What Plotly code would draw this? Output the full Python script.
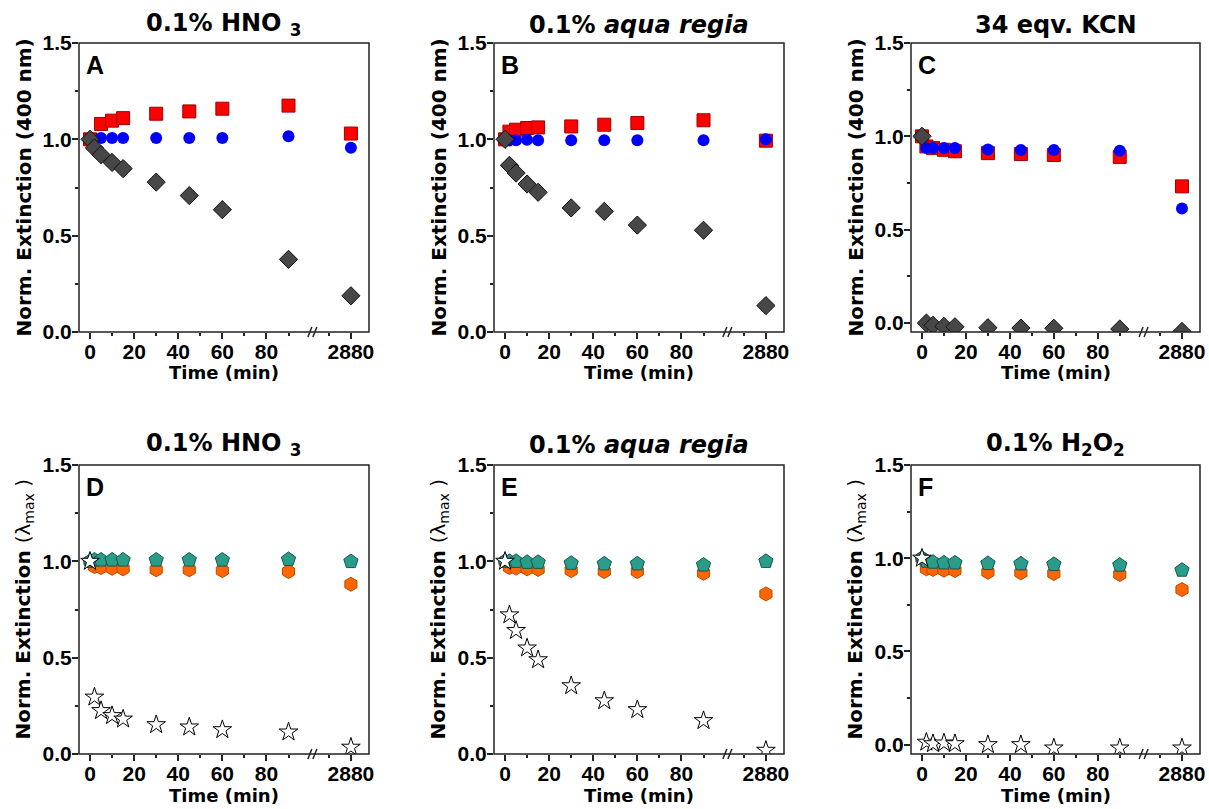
import plotly.graph_objects as go

W, H = 1209, 809

# sampling times (min); 2880 sits behind the axis break
time_min = [0, 2, 5, 10, 15, 30, 45, 60, 90, 2880]

# top row: normalised extinction at 400 nm
a_square = [1.0, None, 1.08, 1.097, 1.11, 1.133, 1.145, 1.159, 1.175, 1.03]
a_circle = [1.0, None, 1.007, 1.007, 1.007, 1.007, 1.007, 1.007, 1.016, 0.956]
a_diamond = [1.0, 0.955, 0.92, 0.88, 0.848, 0.778, 0.708, 0.635, 0.377, 0.188]

b_square = [1.0, 1.04, 1.05, 1.059, 1.062, 1.067, 1.076, 1.085, 1.099, 0.993]
b_circle = [1.0, 0.995, 0.995, 0.998, 0.995, 0.995, 0.995, 0.995, 0.995, 1.0]
b_diamond = [1.0, 0.865, 0.825, 0.768, 0.725, 0.644, 0.626, 0.555, 0.528, 0.137]

c_square = [1.0, 0.946, 0.937, 0.928, 0.92, 0.91, 0.905, 0.9, 0.89, 0.732]
c_circle = [1.0, 0.937, 0.937, 0.937, 0.937, 0.93, 0.927, 0.927, 0.923, 0.614]
c_diamond = [1.0, 0.0, -0.012, -0.018, -0.02, -0.025, -0.027, -0.028, -0.032, -0.045]

# bottom row: normalised extinction at lambda max
d_hexagon = [1.0, 0.973, 0.968, 0.964, 0.961, 0.956, 0.956, 0.952, 0.947, 0.881]
d_pentagon = [1.0, 1.007, 1.007, 1.007, 1.007, 1.007, 1.007, 1.007, 1.01, 0.999]
d_star = [1.0, 0.295, 0.225, 0.199, 0.181, 0.152, 0.14, 0.126, 0.114, 0.035]

e_hexagon = [1.0, 0.968, 0.965, 0.961, 0.958, 0.952, 0.947, 0.947, 0.938, 0.831]
e_pentagon = [1.0, 1.0, 1.0, 0.995, 0.995, 0.99, 0.987, 0.987, 0.981, 1.0]
e_star = [1.0, 0.722, 0.641, 0.55, 0.489, 0.354, 0.276, 0.23, 0.173, 0.019]

f_hexagon = [1.0, 0.943, 0.94, 0.936, 0.934, 0.925, 0.922, 0.918, 0.913, 0.832]
f_pentagon = [1.0, 0.984, 0.979, 0.975, 0.975, 0.972, 0.97, 0.967, 0.963, 0.936]
f_star = [1.0, 0.013, 0.005, 0.009, 0.005, 0.0, 0.0, -0.018, -0.018, -0.018]

x_ticks = [0, 20, 40, 60, 80]
x_minor = [10, 30, 50, 70, 90]
y_ticks = [0.0, 0.5, 1.0, 1.5]
y_minor = [0.25, 0.75, 1.25]

titles = ["0.1% HNO <sub>3</sub>", "0.1% <i>aqua regia</i>", "34 eqv. KCN",
          "0.1% HNO <sub>3</sub>", "0.1% <i>aqua regia</i>", "0.1% H<sub>2</sub>O<sub>2</sub>"]
letters = ["A", "B", "C", "D", "E", "F"]
ytitle_top = "Norm. Extinction (400 nm)"
ytitle_bottom = "Norm. Extinction <span style='font-weight:normal'>(λ<sub>max</sub> )</span>"

TOP_STYLE = [
    dict(symbol="square", size=13, color="#ff0000", line=dict(color="#a00000", width=1)),
    dict(symbol="circle", size=12, color="#0000ff", line=dict(color="#0000ff", width=0)),
    dict(symbol="diamond", size=14, color="#474747", line=dict(color="#111111", width=1)),
]
BOTTOM_STYLE = [
    dict(symbol="hexagon", size=14, color="#ff6600", line=dict(color="#b84a00", width=1)),
    dict(symbol="pentagon", size=15, color="#2a9d8a", line=dict(color="#17574c", width=1)),
    dict(symbol="star", size=14, color="white", line=dict(color="black", width=1)),
]

panels = [
    dict(series=[a_square, a_circle, a_diamond], yr=[0, 1.5]),
    dict(series=[b_square, b_circle, b_diamond], yr=[0, 1.5]),
    dict(series=[c_square, c_circle, c_diamond], yr=[-0.048, 1.5]),
    dict(series=[d_hexagon, d_pentagon, d_star], yr=[0, 1.5]),
    dict(series=[e_hexagon, e_pentagon, e_star], yr=[0, 1.5]),
    dict(series=[f_hexagon, f_pentagon, f_star], yr=[-0.05, 1.5]),
]

COLS_PX = [(79, 369), (494, 784), (911, 1200)]
ROWS_PX = [(43, 332), (465, 754)]

X0, BREAK, LONG_POS, X_END = -5, 101.5, 118.3, 126.5
LINE = "#222222"
TICKFONT = dict(family="Liberation Sans", size=21, color="black", weight="bold")
TITLEFONT = dict(family="DejaVu Sans", color="black", weight="bold")


def px_x(p):
    return p / W


def px_y(p):
    return 1 - p / H


fig = go.Figure()
layout = dict(width=W, height=H, margin=dict(l=0, r=0, t=0, b=0, autoexpand=False),
              plot_bgcolor="white", paper_bgcolor="white", showlegend=False,
              hovermode=False)
shapes, annotations = [], []

for k, panel in enumerate(panels):
    row, col = divmod(k, 3)
    left, right = COLS_PX[col]
    top, bottom = ROWS_PX[row]
    split = left + (right - left) * (BREAK - X0) / (X_END - X0)
    xa, xb, ya = 2 * k + 1, 2 * k + 2, k + 1
    styles = TOP_STYLE if row == 0 else BOTTOM_STYLE

    common_x = dict(anchor=f"y{ya}", showgrid=False, zeroline=False, showline=False,
                    automargin=False, ticks="outside", ticklen=6, tickwidth=1.5,
                    tickcolor=LINE, tickfont=TICKFONT, tickmode="array", ticklabelstandoff=-5)
    layout[f"xaxis{xa}"] = dict(common_x, domain=[px_x(left), px_x(split)], range=[X0, BREAK],
                                tickvals=x_ticks,
                                minor=dict(tickvals=x_minor, ticks="outside", ticklen=3,
                                           tickwidth=1.5, tickcolor=LINE, showgrid=False))
    layout[f"xaxis{xb}"] = dict(common_x, domain=[px_x(split), px_x(right)],
                                range=[2880 - (LONG_POS - BREAK), 2880 + (X_END - LONG_POS)],
                                tickvals=[2880],
                                minor=dict(tickvals=[2870], ticks="outside", ticklen=3,
                                           tickwidth=1.5, tickcolor=LINE, showgrid=False))
    layout[f"yaxis{ya}"] = dict(anchor=f"x{xa}", domain=[px_y(bottom), px_y(top)], range=panel["yr"],
                                showgrid=False, zeroline=False, showline=False, automargin=False,
                                tickmode="array", tickvals=y_ticks, tickformat=".1f",
                                ticks="outside", ticklen=6, tickwidth=1.5, tickcolor=LINE,
                                tickfont=TICKFONT, ticklabelstandoff=-4,
                                minor=dict(tickvals=y_minor, ticks="outside", ticklen=3,
                                           tickwidth=1.5, tickcolor=LINE, showgrid=False))

    for vals, st in zip(panel["series"], styles):
        near = [(t, v) for t, v in zip(time_min, vals) if v is not None and t <= BREAK]
        far = [(t, v) for t, v in zip(time_min, vals) if v is not None and t > BREAK]
        for pts, xid in ((near, xa), (far, xb)):
            fig.add_trace(go.Scatter(
                x=[p[0] for p in pts], y=[p[1] for p in pts], mode="markers",
                xaxis=f"x{xid}", yaxis=f"y{ya}",
                marker=dict(symbol=st["symbol"], size=st["size"], color=st["color"], line=st["line"])))

    # frame and axis break marks
    shapes.append(dict(type="rect", xref="paper", yref="paper", x0=px_x(left), x1=px_x(right),
                       y0=px_y(bottom), y1=px_y(top), line=dict(color=LINE, width=1.5)))
    for off in (-4, 1):
        shapes.append(dict(type="line", xref="paper", yref="paper",
                           x0=px_x(split + off - 2), y0=px_y(bottom + 5),
                           x1=px_x(split + off + 2), y1=px_y(bottom - 5),
                           line=dict(color=LINE, width=1.5)))

    cx = (left + right) / 2
    title_y = 25 if row == 0 else 445
    annotations.append(dict(text=f"<b>{titles[k]}</b>", x=px_x(cx), y=px_y(title_y),
                            xref="paper", yref="paper", showarrow=False,
                            xanchor="center", yanchor="middle", font=dict(TITLEFONT, size=24)))
    annotations.append(dict(text=letters[k], x=px_x(left + 5), y=px_y(top + 22),
                            xref="paper", yref="paper", showarrow=False,
                            xanchor="left", yanchor="middle",
                            font=dict(family="Liberation Sans", size=25, color="black", weight="bold")))
    annotations.append(dict(text="Time (min)", x=px_x(cx), y=px_y(bottom + 41),
                            xref="paper", yref="paper", showarrow=False,
                            xanchor="center", yanchor="middle", font=dict(TITLEFONT, size=18)))
    annotations.append(dict(text=ytitle_top if row == 0 else ytitle_bottom,
                            x=px_x(left - 56), y=px_y((top + bottom) / 2),
                            xref="paper", yref="paper", showarrow=False, textangle=-90,
                            xanchor="center", yanchor="middle", font=dict(TITLEFONT, size=20)))

layout["shapes"] = shapes
layout["annotations"] = annotations
fig.update_layout(**layout)

# drop the browser's default body margin so the figure fills the window exactly
fig.write_html("out.html", config={"displayModeBar": False},
               post_script="document.body.style.margin='0';document.body.style.overflow='hidden';")
